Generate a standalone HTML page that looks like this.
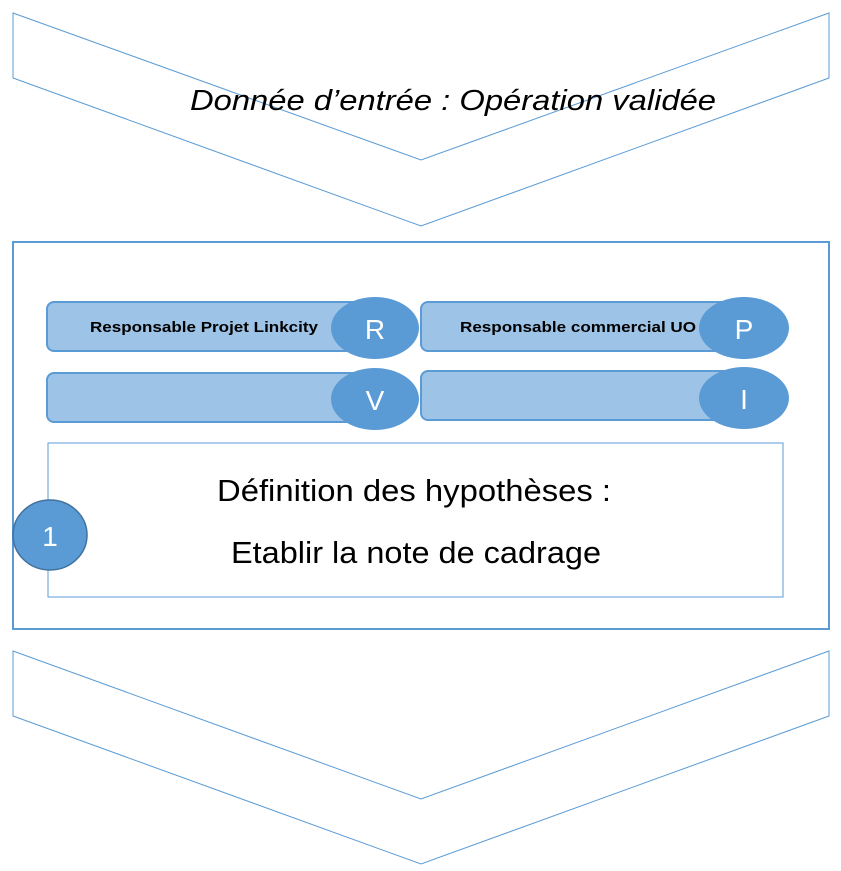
<!DOCTYPE html>
<html><head><meta charset="utf-8"><style>
body{margin:0;width:841px;height:871px;background:#fff;overflow:hidden;font-family:"Liberation Sans",sans-serif}
svg{position:absolute;left:0;top:0}
</style></head><body>
<svg width="841" height="871" viewBox="0 0 841 871">
<polygon points="13,13 421,160 829,13 829,78 421,226 13,78" fill="#fff" stroke="#5b9bd5" stroke-width="1"/>
<text x="190" y="110" font-size="29" font-style="italic" fill="#000" textLength="526" lengthAdjust="spacingAndGlyphs">Donnée d’entrée : Opération validée</text>
<polygon points="13,651 421,799 829,651 829,716 421,864 13,716" fill="#fff" stroke="#5b9bd5" stroke-width="1"/>
<rect x="13" y="242" width="816" height="387" fill="#fff" stroke="#5b9bd5" stroke-width="2"/>
<rect x="47" y="302" width="320" height="49" rx="7" fill="#9dc3e6" stroke="#5b9bd5" stroke-width="2"/>
<rect x="47" y="373" width="320" height="49" rx="7" fill="#9dc3e6" stroke="#5b9bd5" stroke-width="2"/>
<rect x="421" y="302" width="310" height="49" rx="7" fill="#9dc3e6" stroke="#5b9bd5" stroke-width="2"/>
<rect x="421" y="371" width="310" height="49" rx="7" fill="#9dc3e6" stroke="#5b9bd5" stroke-width="2"/>
<text x="90" y="332" font-size="15" font-weight="bold" textLength="228" lengthAdjust="spacingAndGlyphs">Responsable Projet Linkcity</text>
<text x="460" y="332" font-size="15" font-weight="bold" textLength="236" lengthAdjust="spacingAndGlyphs">Responsable commercial UO</text>
<ellipse cx="375" cy="328" rx="44" ry="31" fill="#5b9bd5"/>
<ellipse cx="375" cy="399" rx="44" ry="31" fill="#5b9bd5"/>
<ellipse cx="744" cy="328" rx="45" ry="31" fill="#5b9bd5"/>
<ellipse cx="744" cy="398" rx="45" ry="31" fill="#5b9bd5"/>
<g fill="#fff" font-size="28" text-anchor="middle">
<text x="375" y="339">R</text><text x="375" y="410">V</text>
<text x="744" y="339">P</text><text x="744" y="409">I</text>
</g>
<rect x="48" y="443" width="735" height="154" fill="#fff" stroke="#5b9bd5" stroke-width="1"/>
<text x="217" y="501" font-size="31" textLength="394" lengthAdjust="spacingAndGlyphs">Définition des hypothèses :</text>
<text x="231" y="563" font-size="31" textLength="370" lengthAdjust="spacingAndGlyphs">Etablir la note de cadrage</text>
<ellipse cx="50" cy="535" rx="37" ry="35" fill="#5b9bd5" stroke="#41719c" stroke-width="1.5"/>
<text x="50" y="546" text-anchor="middle" font-size="28" fill="#fff">1</text>
</svg>
</body></html>
